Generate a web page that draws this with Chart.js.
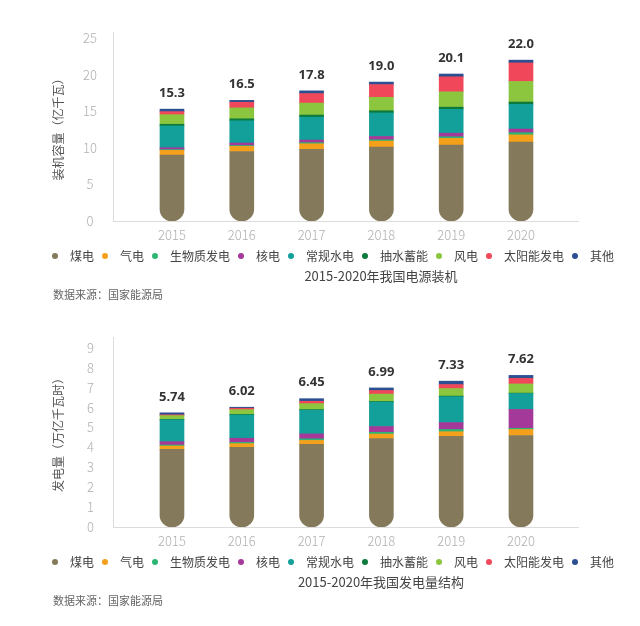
<!DOCTYPE html>
<html>
<head>
<meta charset="utf-8">
<script src="https://cdn.jsdelivr.net/npm/chart.js@4.4.1/dist/chart.umd.min.js"></script>
<style>
  body { margin: 0; background: #fff; }
  #wrap { position: relative; width: 640px; height: 626px; }
  canvas { position: absolute; left: 0; }
  #capChart { top: 0; }
  #genChart { top: 306px; }
</style>
</head>
<body>
<div id="wrap">
  <canvas id="capChart" width="640" height="313"></canvas>
  <canvas id="genChart" width="640" height="313"></canvas>
</div>
<script>
// categories
const years = [2015, 2016, 2017, 2018, 2019, 2020];
const sources = ['煤电', '气电', '生物质发电', '核电', '常规水电', '抽水蓄能', '风电', '太阳能发电', '其他'];
const sourceColors = ['#847a5b', '#f5a01a', '#2bb673', '#a4399a', '#139f9a', '#0b7a3b', '#8cc63f', '#f0475a', '#2b4f91'];

// installed capacity (亿千瓦)
const capCoal    = [9.0, 9.5, 9.8, 10.1, 10.4, 10.8];
const capGas     = [0.66, 0.70, 0.76, 0.83, 0.90, 0.98];
const capBio     = [0.10, 0.12, 0.15, 0.18, 0.22, 0.30];
const capNuclear = [0.27, 0.34, 0.36, 0.45, 0.49, 0.50];
const capHydro   = [2.97, 3.05, 3.13, 3.22, 3.26, 3.38];
const capPumped  = [0.23, 0.27, 0.29, 0.30, 0.30, 0.31];
const capWind    = [1.31, 1.49, 1.64, 1.84, 2.10, 2.82];
const capSolar   = [0.42, 0.77, 1.30, 1.74, 2.05, 2.53];
const capOther   = [0.34, 0.26, 0.37, 0.34, 0.38, 0.38];
const capTotals  = ['15.3', '16.5', '17.8', '19.0', '20.1', '22.0'];
const capTicks   = [0, 5, 10, 15, 20, 25];

// generation (万亿千瓦时)
const genCoal    = [3.90, 4.00, 4.15, 4.45, 4.56, 4.60];
const genGas     = [0.17, 0.19, 0.20, 0.22, 0.23, 0.30];
const genBio     = [0.05, 0.06, 0.08, 0.09, 0.11, 0.06];
const genNuclear = [0.17, 0.21, 0.25, 0.29, 0.35, 0.95];
const genHydro   = [1.10, 1.17, 1.19, 1.23, 1.30, 0.80];
const genPumped  = [0.02, 0.03, 0.03, 0.03, 0.03, 0.02];
const genWind    = [0.19, 0.24, 0.30, 0.37, 0.38, 0.46];
const genSolar   = [0.04, 0.07, 0.12, 0.18, 0.20, 0.28];
const genOther   = [0.10, 0.05, 0.13, 0.13, 0.17, 0.15];
const genTotals  = ['5.74', '6.02', '6.45', '6.99', '7.33', '7.62'];
const genTicks   = [0, 1, 2, 3, 4, 5, 6, 7, 8, 9];

const FONT = '"Noto Sans CJK SC", "Noto Sans", sans-serif';

// totals over bars, legend row, caption and source under the chart
const notesPlugin = {
  id: 'notes',
  afterDatasetsDraw(chart, args, opts) {
    const ctx = chart.ctx;
    ctx.save();
    ctx.font = 'bold 13px "Open Sans", "Noto Sans", sans-serif';
    ctx.fillStyle = '#333';
    ctx.textAlign = 'center';
    ctx.textBaseline = 'middle';
    opts.totals.forEach(function (t, i) {
      let top = Infinity;
      chart.data.datasets.forEach(function (ds, d) {
        const bar = chart.getDatasetMeta(d).data[i];
        if (bar) top = Math.min(top, bar.y);
      });
      const x = chart.getDatasetMeta(0).data[i].x;
      ctx.fillText(t, x, top - 16);
    });
    ctx.restore();
  },
  afterDraw(chart, args, opts) {
    const ctx = chart.ctx;
    const base = chart.chartArea.bottom;
    ctx.save();
    ctx.textBaseline = 'middle';
    ctx.font = '12px ' + FONT;
    let x = 55;
    const ly = base + 35;
    chart.data.datasets.forEach(function (ds) {
      ctx.fillStyle = ds.backgroundColor;
      ctx.beginPath();
      ctx.arc(x, ly, 3, 0, Math.PI * 2);
      ctx.fill();
      ctx.fillStyle = '#444';
      ctx.textAlign = 'left';
      ctx.fillText(ds.label, x + 15, ly);
      x += 15 + ctx.measureText(ds.label).width + 11;
    });
    ctx.font = '13px ' + FONT;
    ctx.fillStyle = '#444';
    ctx.textAlign = 'center';
    ctx.fillText(opts.title, 381, base + 55);
    ctx.font = '11px ' + FONT;
    ctx.fillStyle = '#666';
    ctx.textAlign = 'left';
    ctx.fillText('数据来源：国家能源局', 53, base + 74);
    ctx.restore();
  }
};

function makeChart(id, series, totals, ticks, yMax, yTitle, title, topPad, tickPad) {
  const datasets = series.map(function (values, k) {
    const ds = {
      label: sources[k],
      data: values,
      backgroundColor: sourceColors[k],
      barThickness: 24,
      borderWidth: 0
    };
    if (k === 0) {
      // coal sits at the bottom, capsule-like round end
      ds.borderRadius = { topLeft: 0, topRight: 0, bottomLeft: 12, bottomRight: 12 };
      ds.borderSkipped = false;
    }
    return ds;
  });

  return new Chart(document.getElementById(id), {
    type: 'bar',
    data: { labels: years, datasets: datasets },
    plugins: [notesPlugin],
    options: {
      responsive: false,
      animation: false,
      layout: { padding: { top: topPad, right: 62, bottom: 62, left: 0 } },
      plugins: {
        legend: { display: false },
        tooltip: { enabled: false },
        notes: { totals: totals, title: title }
      },
      scales: {
        x: {
          type: 'linear',
          stacked: true,
          offset: false,
          min: 2014.155,
          max: 2020.817,
          afterBuildTicks: function (s) { s.ticks = years.map(function (v) { return { value: v }; }); },
          afterFit: function (s) { s.height = 30; },
          grid: { display: false, drawTicks: false },
          border: { display: true, color: '#dcdcdc', width: 1 },
          ticks: {
            padding: 6,
            color: '#b0b0b0',
            font: { family: FONT, size: 13, weight: '300' },
            callback: function (v) { return String(v); }
          }
        },
        y: {
          stacked: true,
          min: 0,
          max: yMax,
          afterBuildTicks: function (s) { s.ticks = ticks.map(function (v) { return { value: v }; }); },
          afterFit: function (s) { s.width = 113; },
          grid: { display: false, drawTicks: false },
          border: { display: true, color: '#dcdcdc', width: 1 },
          ticks: {
            padding: tickPad,
            crossAlign: 'center',
            color: '#b0b0b0',
            font: { family: FONT, size: 13, weight: '300' }
          },
          title: {
            display: true,
            text: yTitle,
            color: '#555',
            font: { family: FONT, size: 12 },
            padding: { top: 51, bottom: 0 }
          }
        }
      }
    }
  });
}

makeChart('capChart',
  [capCoal, capGas, capBio, capNuclear, capHydro, capPumped, capWind, capSolar, capOther],
  capTotals, capTicks, 25.85, '装机容量（亿千瓦）', '2015-2020年我国电源装机', 32, 16);

makeChart('genChart',
  [genCoal, genGas, genBio, genNuclear, genHydro, genPumped, genWind, genSolar, genOther],
  genTotals, genTicks, 9.55, '发电量（万亿千瓦时）', '2015-2020年我国发电量结构', 31, 19);
</script>
</body>
</html>
